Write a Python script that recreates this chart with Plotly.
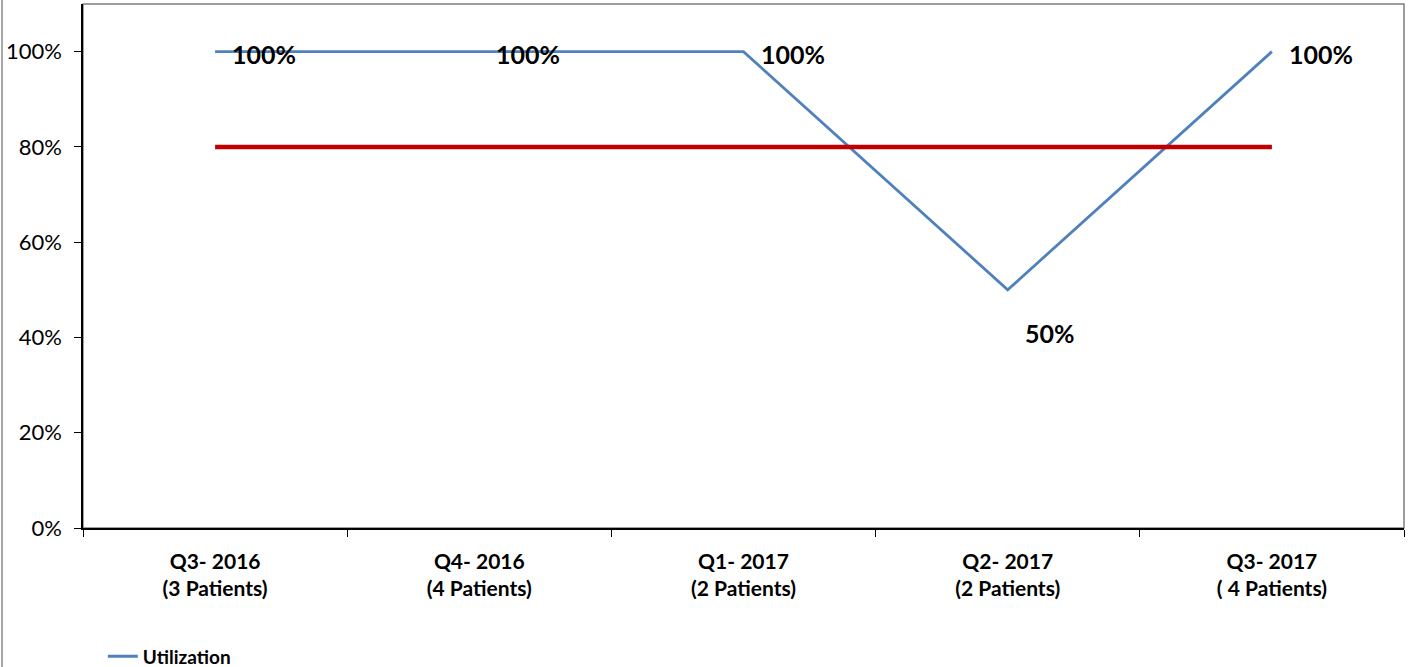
import plotly.graph_objects as go

categories = ["Q3- 2016<br>(3 Patients)", "Q4- 2016<br>(4 Patients)", "Q1- 2017<br>(2 Patients)",
              "Q2- 2017<br>(2 Patients)", "Q3- 2017<br>( 4 Patients)"]
utilization = [1.0, 1.0, 1.0, 0.5, 1.0]
target = [0.8, 0.8, 0.8, 0.8, 0.8]
label_text = ["100%", "100%", "100%", "50%", "100%"]
label_yshift = [-2, -2, -2, -43, -2]

FONT = "Lato"
fig = go.Figure()
fig.add_trace(go.Scatter(x=categories, y=utilization, mode="lines", name="<b>Utilization</b>",
                         line=dict(color="#4F81BD", width=2.8), showlegend=True))
fig.add_trace(go.Scatter(x=categories, y=target, mode="lines", name="Target",
                         line=dict(color="#C00000", width=4.5), showlegend=False))

for c, v, t, ys in zip(categories, utilization, label_text, label_yshift):
    fig.add_annotation(x=c, y=v, text=f"<b>{t}</b>", showarrow=False, xanchor="left",
                       yanchor="middle", xshift=15, yshift=ys,
                       font=dict(family=FONT, size=25, color="black"))

# plot-area frame and outer chart border
fig.add_shape(type="rect", xref="paper", yref="paper", x0=0, y0=0, x1=1, y1=1,
              line=dict(color="#7F7F7F", width=1.5), layer="below")
fig.add_shape(type="line", xref="paper", yref="paper", x0=-0.0613, x1=-0.0613, y0=-0.3, y1=1.02,
              line=dict(color="#8C8C8C", width=1.5))

fig.update_layout(
    width=1409, height=667,
    margin=dict(l=83, r=5, t=4, b=139, autoexpand=False),
    paper_bgcolor="white", plot_bgcolor="white",
    font=dict(family=FONT, color="black"),
    legend=dict(orientation="h", x=0.015, y=-0.245, xanchor="left", yanchor="middle",
                font=dict(family=FONT, size=19, color="black"), itemwidth=30),
    xaxis=dict(type="category", range=[-0.5, 4.5], showline=True, linecolor="black", linewidth=1.5,
               ticks="outside", ticklen=7, tickcolor="black", tickson="boundaries",
               showgrid=False, zeroline=False, automargin=False, ticklabelstandoff=14,
               tickfont=dict(family=FONT, size=21, color="black"),
               tickprefix="<b>", ticksuffix="</b>"),
    yaxis=dict(range=[0, 1.1], tickvals=[0, 0.2, 0.4, 0.6, 0.8, 1.0], tickformat=".0%",
               showline=True, linecolor="black", linewidth=1.5, ticks="outside", ticklen=7,
               tickcolor="black", showgrid=False, zeroline=False, automargin=False,
               ticklabelstandoff=8,
               tickfont=dict(family=FONT, size=22, color="black")),
)
fig.write_html("out.html", config={"displayModeBar": False},
               post_script="document.body.style.margin='0';document.body.style.padding='0';")
